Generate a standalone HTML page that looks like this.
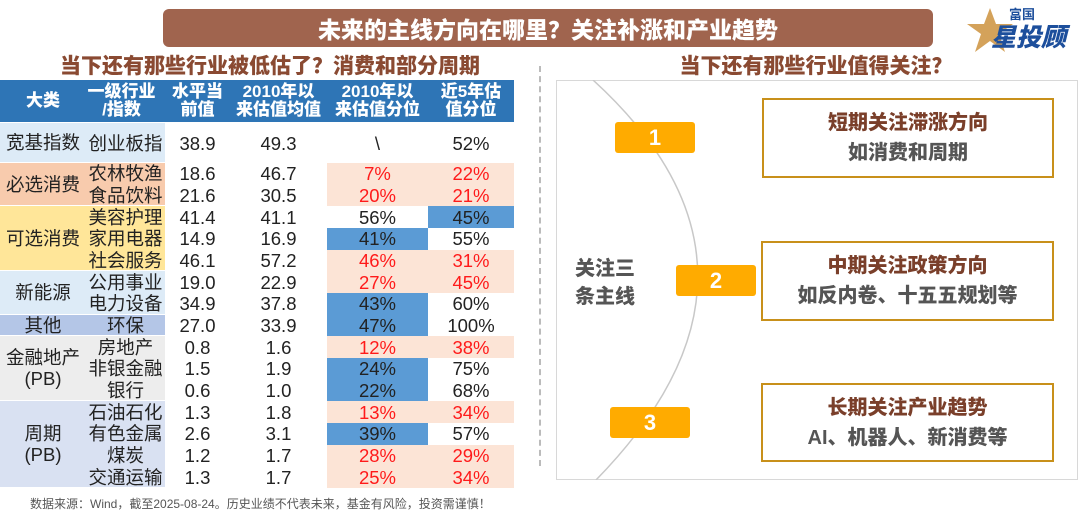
<!DOCTYPE html>
<html><head><meta charset="utf-8">
<style>
body{margin:0;width:1080px;height:516px;background:#fff;position:relative;overflow:hidden;font-family:"Liberation Sans","Noto Sans CJK SC",sans-serif;}
.a{position:absolute;box-sizing:border-box;}
.c{display:flex;align-items:center;justify-content:center;text-align:center;}
.tt{font-weight:900;color:#8a4a32;font-size:21px;}
.hd{color:#fff;font-weight:900;font-size:17px;line-height:18px;}
.cell{font-size:18.5px;color:#222;line-height:21px;white-space:nowrap;}
.red{color:#ff1a1a;}
.box{border:2px solid #c8901a;background:#fff;font-weight:900;font-size:20px;line-height:30px;}
.num{background:#ffab00;color:#fff;font-weight:700;font-size:22px;border-radius:3px;}
</style></head><body>
<div class="a c" style="left:163px;top:9px;width:770px;height:38px;background:#a0644e;border-radius:6px;color:#fff;font-weight:900;font-size:23px;">未来的主线方向在哪里？关注补涨和产业趋势</div>
<div class="a" style="left:965px;top:4px;width:110px;height:50px;white-space:nowrap;">
<svg width="50" height="48" style="position:absolute;left:0;top:2px"><polygon points="25,2 31,18 48,18 34,28 40,46 25,35 10,46 16,28 2,18 19,18" fill="#d4a25a"/></svg>
<div class="a" style="left:44px;top:0;font-size:13px;color:#1d4f9c;font-weight:700">富国</div>
<div class="a" style="left:26px;top:14px;font-size:25px;color:#1d4f9c;font-weight:900;font-style:italic">星投顾</div>
</div>
<div class="a c tt" style="left:0;top:50px;width:540px;height:30px;">当下还有那些行业被低估了？消费和部分周期</div>
<div class="a c tt" style="left:556px;top:50px;width:520px;height:30px;">当下还有那些行业值得关注？</div>
<div class="a" style="left:539px;top:66px;width:0;height:400px;border-left:2px dashed #bbb;"></div>

<div class="a" style="left:0;top:80px;width:514px;height:42px;background:#2e75b6;"></div>
<div id="tbl"></div>

<div class="a" style="left:30px;top:495px;font-size:12px;color:#555;">数据来源：Wind，截至2025-08-24。历史业绩不代表未来，基金有风险，投资需谨慎！</div>

<div class="a" style="left:556px;top:80px;width:522px;height:400px;border:1px solid #d8d8d8;"></div>
<svg class="a" style="left:556px;top:80px" width="522" height="400"><path d="M37,0 Q245,190 40,400" fill="none" stroke="#c8c8c8" stroke-width="1.5"/></svg>
<div class="a" style="left:575px;top:255px;font-size:20px;font-weight:900;color:#555;line-height:28px;">关注三<br>条主线</div>
<div class="a c num" style="left:615px;top:122px;width:80px;height:31px;">1</div>
<div class="a c num" style="left:676px;top:265px;width:80px;height:31px;">2</div>
<div class="a c num" style="left:610px;top:407px;width:80px;height:31px;">3</div>
<div class="a c box" style="left:762px;top:98px;width:292px;height:80px;"><div><span style="color:#7a3f2a">短期关注滞涨方向</span><br><span style="color:#555">如消费和周期</span></div></div>
<div class="a c box" style="left:761px;top:241px;width:293px;height:80px;"><div><span style="color:#7a3f2a">中期关注政策方向</span><br><span style="color:#555">如反内卷、十五五规划等</span></div></div>
<div class="a c box" style="left:761px;top:383px;width:293px;height:79px;"><div><span style="color:#7a3f2a">长期关注产业趋势</span><br><span style="color:#555">AI、机器人、新消费等</span></div></div>

<script>
const headers=["大类","一级行业<br>/指数","水平当<br>前值","2010年以<br>来估值均值","2010年以<br>来估值分位","近5年估<br>值分位"];
const colX=[0,86,165,230,327,428,514];
const groups=[["宽基指数",0,1,"#ddebf7"],["必选消费",1,2,"#f8cbad"],["可选消费",3,3,"#ffe699"],["新能源",6,2,"#ddebf7"],["其他",8,1,"#b4c6e7"],["金融地产<br>(PB)",9,3,"#ededed"],["周期<br>(PB)",12,4,"#d9e1f2"]];
const names=["创业板指","农林牧渔","食品饮料","美容护理","家用电器","社会服务","公用事业","电力设备","环保","房地产","非银金融","银行","石油石化","有色金属","煤炭","交通运输"];
const cur=["38.9","18.6","21.6","41.4","14.9","46.1","19.0","34.9","27.0","0.8","1.5","0.6","1.3","2.6","1.2","1.3"];
const avg=["49.3","46.7","30.5","41.1","16.9","57.2","22.9","37.8","33.9","1.6","1.9","1.0","1.8","3.1","1.7","1.7"];
const pct10=["\\","7%","20%","56%","41%","46%","27%","43%","47%","12%","24%","22%","13%","39%","28%","25%"];
const pct5=["52%","22%","21%","45%","55%","31%","45%","60%","100%","38%","75%","68%","34%","57%","29%","34%"];
const st10=["n","r","r","n","b","r","r","b","b","r","b","b","r","b","r","r"];
const st5=["n","r","r","b","n","r","r","n","n","r","n","n","r","n","r","r"];
const T=document.getElementById('tbl');
function rowY(i){return i===0?123:163+(i-1)*21.67;}
function rowH(i){return i===0?40:21.67;}
function mk(x,y,w,h,html,cls,bg){const d=document.createElement('div');d.className='a c '+cls;d.style.cssText=`left:${x}px;top:${y}px;width:${w}px;height:${h}px;`+(bg?`background:${bg};`:'');d.innerHTML=html;T.appendChild(d);return d;}
headers.forEach((h,j)=>{const d=mk(colX[j]-(j==1?8:0),80,colX[j+1]-colX[j]+(j==1?8:0),42,h,'hd');

});
groups.forEach(g=>{const y=rowY(g[1]);const y2=rowY(g[1]+g[2]-1)+rowH(g[1]+g[2]-1);
const bg=mk(0,y,165,y2-y-1,'','',g[3]);


const d=mk(0,y,86,y2-y-1,g[0],'cell');

});
const pcol={r:"#fce4d6",b:"#5b9bd5",n:""};
names.forEach((n,i)=>{const y=rowY(i),h=rowH(i);
const a=mk(colX[1],y,colX[2]-colX[1],h,n,'cell');


const b=mk(colX[2],y,colX[3]-colX[2],h,cur[i],'cell');


const c=mk(colX[3],y,colX[4]-colX[3],h,avg[i],'cell');


const d=mk(colX[4],y,colX[5]-colX[4],h,pct10[i],'cell'+(st10[i]=='r'?' red':''),pcol[st10[i]]);


const e=mk(colX[5],y,colX[6]-colX[5],h,pct5[i],'cell'+(st5[i]=='r'?' red':''),pcol[st5[i]]);

});
</script>
</body></html>
